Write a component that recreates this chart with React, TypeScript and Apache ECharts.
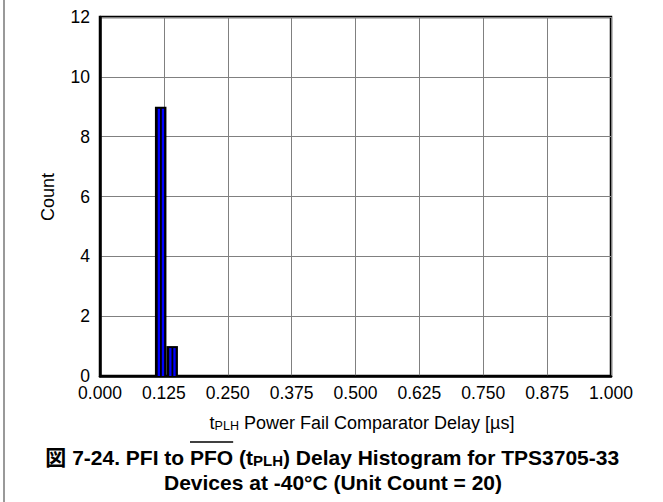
import React, { useEffect, useRef } from "react";
import * as echarts from "echarts";

const binStarts = [0.1075, 0.13];
const binEnds = [0.13, 0.1525];
const counts = [9, 1];
const xTickLabels = ["0.000", "0.125", "0.250", "0.375", "0.500", "0.625", "0.750", "0.875", "1.000"];
const yTickLabels = ["0", "2", "4", "6", "8", "10", "12"];

const FONT = "'Liberation Sans', Arial, 'Noto Sans CJK JP', sans-serif";
const CAP_SIZE = 21;
const CAP_SUB = 15;
const CAP_PRE = "図 7-24. PFI to";
const CAP_OVER = "PFO";
const CAP_POST = "(t{sub|PLH}) Delay Histogram for TPS3705-33";
const CAP_LINE2 = "Devices at -40°C (Unit Count = 20)";

function measure(text: string, font: string): number {
  const c = document.createElement("canvas");
  const ctx = c.getContext("2d");
  if (!ctx) return text.length * 10;
  ctx.font = font;
  return ctx.measureText(text).width;
}

export default function App() {
  const ref = useRef<HTMLDivElement>(null);
  useEffect(() => {
    if (!ref.current) return;
    const chart = echarts.init(ref.current, undefined, { renderer: "svg" });
    const data = binStarts.map((s, i) => [s, binEnds[i], counts[i]]);
    const capFont = `bold ${CAP_SIZE}px ${FONT}`;
    const wSpace = measure(" ", capFont);
    const wOver = measure(CAP_OVER, capFont);
    const overStart = 190;
    const capY = 457;
    chart.setOption({
      animation: false,
      backgroundColor: "#ffffff",
      textStyle: { fontFamily: FONT },
      grid: {
        left: 100,
        top: 17,
        width: 511,
        height: 359,
        show: true,
        borderColor: "#000",
        borderWidth: 2.5,
        backgroundColor: "transparent",
      },
      xAxis: {
        type: "value",
        min: 0,
        max: 1,
        interval: 0.125,
        axisLine: { show: true, lineStyle: { color: "#000", width: 2.5 } },
        axisTick: { show: false },
        splitLine: { show: true, lineStyle: { color: "#808080", width: 1 } },
        axisLabel: {
          margin: 8,
          fontSize: 17.5,
          color: "#000",
          fontFamily: FONT,
          formatter: (v: number) => xTickLabels[Math.round(v / 0.125)] ?? "",
        },
      },
      yAxis: {
        type: "value",
        min: 0,
        max: 12,
        interval: 2,
        axisLine: { show: true, lineStyle: { color: "#000", width: 2.5 } },
        axisTick: { show: false },
        splitLine: { show: true, lineStyle: { color: "#808080", width: 1 } },
        axisLabel: {
          margin: 10,
          fontSize: 17.5,
          color: "#000",
          fontFamily: FONT,
          formatter: (v: number) => yTickLabels[Math.round(v / 2)] ?? "",
        },
      },
      series: [
        {
          type: "custom",
          data,
          encode: { x: [0, 1], y: 2 },
          renderItem: (params: any, api: any) => {
            const x0 = api.value(0);
            const x1 = api.value(1);
            const c = api.value(2);
            const p0 = api.coord([x0, c]);
            const p1 = api.coord([x1, 0]);
            const w = p1[0] - p0[0];
            const h = p1[1] - p0[1];
            return {
              type: "group",
              children: [
                { type: "rect", shape: { x: p0[0], y: p0[1], width: w, height: h }, style: { fill: "#000" } },
                { type: "rect", shape: { x: p0[0] + w * 0.24, y: p0[1] + 2, width: w * 0.2, height: h - 2 }, style: { fill: "#0000ff" } },
                { type: "rect", shape: { x: p0[0] + w * 0.6, y: p0[1] + 2, width: w * 0.2, height: h - 2 }, style: { fill: "#0000ff" } },
              ],
            };
          },
        },
      ],
      graphic: [
        { type: "rect", left: 3, top: 0, shape: { width: 2, height: 502 }, style: { fill: "#999" } },
        {
          type: "text",
          x: 48,
          y: 197,
          rotation: Math.PI / 2,
          style: { text: "Count", font: `18px ${FONT}`, fill: "#000", align: "center", verticalAlign: "middle" },
        },
        {
          type: "text",
          x: 362,
          y: 423,
          style: {
            text: "t{sub|PLH} Power Fail Comparator Delay [µs]",
            fill: "#000",
            font: `18px ${FONT}`,
            align: "center",
            verticalAlign: "middle",
            rich: {
              sub: { fontSize: 12.5, fontFamily: FONT, verticalAlign: "bottom", lineHeight: 8, fill: "#000" },
            },
          },
        },
        {
          type: "text",
          x: overStart - wSpace,
          y: capY,
          style: { text: CAP_PRE, fill: "#000", font: capFont, align: "right", verticalAlign: "middle" },
        },
        {
          type: "text",
          x: overStart,
          y: capY,
          style: { text: CAP_OVER, fill: "#000", font: capFont, align: "left", verticalAlign: "middle" },
        },
        {
          type: "line",
          shape: { x1: overStart, y1: 442, x2: overStart + wOver, y2: 442 },
          style: { stroke: "#000", lineWidth: 1.5 },
        },
        {
          type: "text",
          x: overStart + wOver + wSpace,
          y: capY,
          style: {
            text: CAP_POST,
            fill: "#000",
            font: capFont,
            align: "left",
            verticalAlign: "middle",
            rich: {
              sub: { fontSize: CAP_SUB, fontWeight: "bold", fontFamily: FONT, verticalAlign: "bottom", lineHeight: 10, fill: "#000" },
            },
          },
        },
        {
          type: "text",
          x: 333,
          y: 482,
          style: { text: CAP_LINE2, fill: "#000", font: capFont, align: "center", verticalAlign: "middle" },
        },
      ],
    });
    return () => chart.dispose();
  }, []);
  return <div ref={ref} style={{ position: "fixed", left: 0, top: 0, width: 663, height: 502 }} />;
}
